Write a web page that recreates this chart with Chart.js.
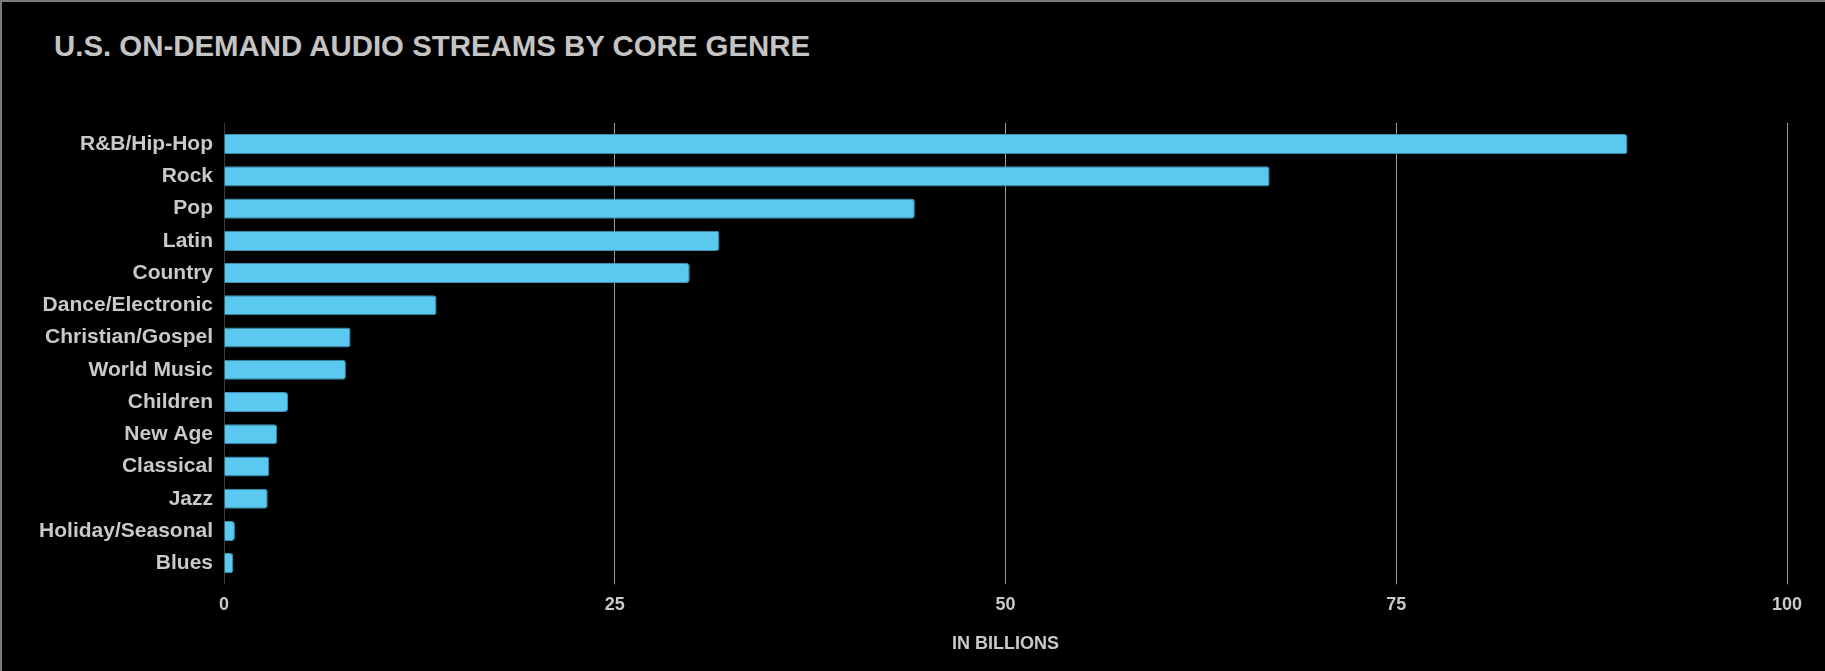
<!DOCTYPE html>
<html>
<head>
<meta charset="utf-8">
<title>U.S. On-Demand Audio Streams by Core Genre</title>
<script src="https://cdn.jsdelivr.net/npm/chart.js@4.4.1/dist/chart.umd.min.js"></script>
<style>
    html, body { margin: 0; padding: 0; background: #000; }
    .frame { position: relative; width: 1825px; height: 671px; background: #000; }
    .frame::after {
        content: '';
        position: absolute; left: 0; top: 0; right: 0; bottom: 0;
        border-top: 2px solid #7a7a7a;
        border-left: 2px solid #7a7a7a;
        pointer-events: none;
    }
    .frame h1 {
        position: absolute; left: 54px; top: 31px; margin: 0;
        font: bold 29.4px/29px "Liberation Sans", Arial, Helvetica, sans-serif;
        color: #c4c4c4;
        white-space: nowrap;
    }
    .frame canvas { position: absolute; left: 0; top: 0; }
</style>
</head>
<body>
<div class="frame">
    <h1>U.S. ON-DEMAND AUDIO STREAMS BY CORE GENRE</h1>
    <canvas id="genreChart"></canvas>
</div>
<script>
// Streams per core genre, in billions
const genres = ['R&B/Hip-Hop', 'Rock', 'Pop', 'Latin', 'Country', 'Dance/Electronic',
    'Christian/Gospel', 'World Music', 'Children', 'New Age', 'Classical', 'Jazz',
    'Holiday/Seasonal', 'Blues'];
const streams = [89.8, 66.9, 44.2, 31.7, 29.8, 13.6, 8.1, 7.8, 4.1, 3.4, 2.9, 2.8, 0.7, 0.6];
const xTicks = [0, 25, 50, 75, 100];

const textColor = '#c9c9c9';
const fontFamily = '"Liberation Sans", Arial, Helvetica, sans-serif';

// zero line is dim, the other verticals are light grey
const gridColor = ctx => (ctx.tick && ctx.tick.value === 0) ? '#3c3c3c' : '#9c9c9c';

function createChart() {
    const ctx = document.getElementById('genreChart');
    new Chart(ctx, {
        type: 'bar',
        data: {
            labels: genres,
            datasets: [{
                label: 'Streams',
                data: streams,
                backgroundColor: '#5bc8f0',
                borderColor: '#3b90b4',
                borderWidth: 1,
                borderRadius: 3,
                borderSkipped: 'start',
                barPercentage: 0.78,
                categoryPercentage: 0.8
            }]
        },
        options: {
            indexAxis: 'y',
            responsive: true,
            maintainAspectRatio: false,
            animation: false,
            layout: {
                padding: { left: 30, right: 38, top: 123, bottom: 16.5 }
            },
            scales: {
                x: {
                    position: 'bottom',
                    min: xTicks[0],
                    max: xTicks[xTicks.length - 1],
                    afterBuildTicks: scale => {
                        scale.ticks = xTicks.map(v => ({ value: v }));
                    },
                    grid: { color: gridColor, lineWidth: 1, drawTicks: true, tickLength: 5 },
                    border: { display: false },
                    ticks: {
                        color: textColor,
                        padding: 10,
                        font: { family: fontFamily, size: 18, weight: 'bold' }
                    },
                    title: {
                        display: true,
                        text: 'IN BILLIONS',
                        color: textColor,
                        padding: { top: 7, bottom: 0 },
                        font: { family: fontFamily, size: 18, weight: 'bold' }
                    }
                },
                // top stubs so the verticals poke a little above the bars
                xTop: {
                    position: 'top',
                    axis: 'x',
                    min: xTicks[0],
                    max: xTicks[xTicks.length - 1],
                    afterBuildTicks: scale => {
                        scale.ticks = xTicks.map(v => ({ value: v }));
                    },
                    grid: { color: gridColor, drawOnChartArea: false, drawTicks: true, tickLength: 5 },
                    border: { display: false },
                    ticks: { display: false }
                },
                y: {
                    afterFit: scale => { scale.width = 194; },
                    grid: { display: false, drawTicks: false },
                    border: { display: false },
                    ticks: {
                        color: textColor,
                        padding: 11,
                        font: { family: fontFamily, size: 21, weight: 'bold' }
                    }
                }
            },
            plugins: {
                legend: { display: false },
                tooltip: { enabled: false }
            }
        }
    });
}

document.addEventListener('DOMContentLoaded', createChart);
</script>
</body>
</html>
